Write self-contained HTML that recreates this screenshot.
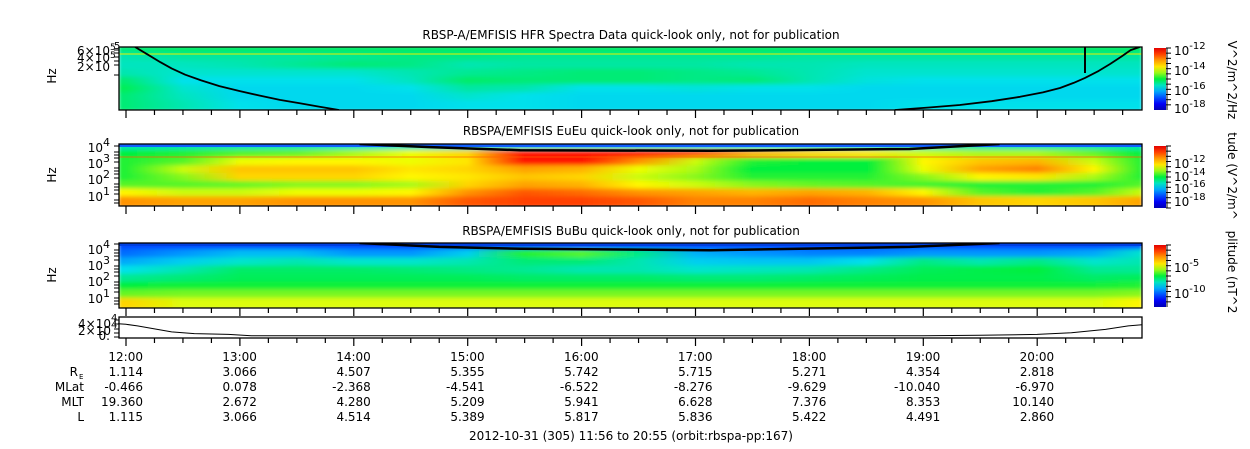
<!DOCTYPE html>
<html><head><meta charset="utf-8">
<style>
html,body{margin:0;padding:0;background:#fff;}
svg{display:block;font-family:"DejaVu Sans","Liberation Sans",sans-serif;}
</style></head>
<body>
<svg id="fig" width="1250" height="449" viewBox="0 0 1250 449" xmlns="http://www.w3.org/2000/svg">
<defs id="defs"></defs>
<g id="root"></g>
</svg>
<script>
// ---- data ----
var timeStops = [12,12.5,13,13.5,14,14.5,15,15.5,16,16.5,17,17.5,18,18.5,19,19.5,20,20.5,21];
var hfrRows = [
 [.46,.47,.47,.47,.47,.47,.47,.47,.47,.47,.47,.47,.47,.47,.47,.47,.47,.47,.47],
 [.42,.43,.43,.43,.44,.45,.45,.44,.44,.44,.44,.44,.43,.43,.43,.43,.43,.43,.43],
 [.41,.41,.42,.44,.46,.45,.42,.43,.43,.43,.43,.42,.42,.41,.41,.41,.41,.41,.41],
 [.42,.40,.40,.40,.40,.42,.44,.45,.46,.46,.45,.44,.42,.40,.40,.40,.40,.40,.40],
 [.46,.38,.38,.38,.38,.41,.47,.46,.46,.46,.45,.46,.42,.39,.38,.38,.38,.38,.38],
 [.48,.40,.37,.37,.37,.38,.43,.42,.38,.38,.39,.38,.38,.37,.37,.37,.37,.37,.37],
 [.46,.41,.37,.37,.37,.37,.40,.38,.37,.37,.37,.37,.37,.37,.37,.37,.37,.37,.37],
 [.46,.42,.38,.37,.37,.37,.38,.38,.37,.37,.37,.37,.37,.37,.38,.38,.38,.38,.38]
];
var euRows = [
 [.42,.42,.42,.42,.41,.40,.40,.40,.40,.40,.40,.40,.40,.40,.41,.42,.42,.42,.42],
 [.50,.52,.55,.56,.60,.64,.70,.90,.90,.88,.84,.74,.70,.68,.62,.60,.60,.56,.50],
 [.52,.55,.64,.66,.66,.64,.68,.90,.90,.78,.62,.52,.50,.50,.66,.72,.74,.62,.52],
 [.52,.62,.72,.72,.72,.68,.70,.76,.74,.64,.60,.50,.50,.50,.64,.76,.80,.66,.52],
 [.52,.58,.70,.70,.70,.66,.68,.72,.70,.62,.58,.52,.52,.52,.58,.66,.68,.60,.52],
 [.55,.55,.56,.58,.58,.60,.70,.76,.74,.66,.62,.58,.56,.55,.54,.52,.52,.52,.55],
 [.66,.62,.62,.64,.64,.66,.78,.84,.82,.78,.76,.74,.76,.74,.66,.55,.52,.55,.62],
 [.78,.76,.76,.78,.78,.78,.84,.86,.86,.84,.80,.80,.82,.80,.78,.72,.70,.72,.76]
];
var buRows = [
 [.22,.22,.22,.22,.22,.22,.22,.22,.22,.22,.22,.22,.22,.22,.22,.22,.22,.22,.24],
 [.26,.30,.34,.34,.30,.30,.36,.52,.55,.45,.33,.30,.28,.28,.30,.30,.30,.32,.40],
 [.32,.36,.40,.42,.40,.40,.42,.46,.46,.42,.36,.35,.35,.38,.45,.42,.45,.40,.42],
 [.38,.42,.47,.47,.47,.46,.45,.44,.42,.42,.40,.41,.42,.45,.48,.49,.50,.44,.44],
 [.44,.46,.48,.48,.48,.48,.48,.47,.47,.47,.46,.46,.47,.48,.49,.49,.49,.47,.48],
 [.50,.51,.51,.51,.51,.51,.51,.51,.51,.51,.51,.51,.51,.51,.51,.51,.51,.51,.52],
 [.56,.57,.57,.57,.57,.57,.57,.57,.57,.57,.57,.57,.57,.57,.57,.57,.57,.57,.58],
 [.70,.63,.63,.63,.63,.63,.63,.63,.63,.63,.63,.63,.63,.63,.63,.63,.63,.63,.66]
];
var hfrLineT1 = [12.08,12.2,12.3,12.4,12.52,12.66,12.82,13.0,13.17,13.35,13.52,13.7,13.87];
var hfrLineF1 = [0,0.13,0.24,0.34,0.44,0.53,0.62,0.70,0.77,0.84,0.89,0.95,1.0];
var hfrLineT2 = [18.75,19.05,19.32,19.6,19.85,20.05,20.2,20.32,20.42,20.54,20.64,20.74,20.82,20.9];
var hfrLineF2 = [1.0,0.96,0.92,0.86,0.79,0.72,0.65,0.57,0.49,0.38,0.27,0.15,0.05,0];
var euLineT = [14.05,14.67,15.46,17.13,18.88,19.67];
var euLineF = [0,0.05,0.10,0.11,0.08,0];
var buLineT = [14.05,14.75,15.46,17.13,18.88,19.67];
var buLineF = [0,0.06,0.09,0.11,0.06,0];
var distT = [11.93,12.0,12.1,12.25,12.4,12.6,12.9,13.1,14,19,19.5,20,20.3,20.6,20.8,20.92];
var distV = [3.1,3.0,2.6,1.9,1.2,0.8,0.6,0.3,0.3,0.3,0.4,0.6,1.0,1.8,2.6,2.9];
var hourLabels = ["12:00","13:00","14:00","15:00","16:00","17:00","18:00","19:00","20:00"];
var reVals = ["1.114","3.066","4.507","5.355","5.742","5.715","5.271","4.354","2.818"];
var mlatVals = ["-0.466","0.078","-2.368","-4.541","-6.522","-8.276","-9.629","-10.040","-6.970"];
var mltVals = ["19.360","2.672","4.280","5.209","5.941","6.628","7.376","8.353","10.140"];
var lVals = ["1.115","3.066","4.514","5.389","5.817","5.836","5.422","4.491","2.860"];

// ---- helpers ----
var NS="http://www.w3.org/2000/svg";
var root=document.getElementById('root'), defs=document.getElementById('defs');
var X0=119, X1=1142;
function xT(t){return 126+(t-12)*113.9;}
function cl(v){return Math.max(0,Math.min(1,v));}
var cmap=[[0,0,0,140],[0.15,0,0,255],[0.3,0,150,255],[0.38,0,225,235],[0.5,0,240,60],[0.65,255,255,0],[0.8,255,130,0],[0.92,255,0,0],[1,180,0,0]];
function jet(v){v=cl(v);for(var i=1;i<cmap.length;i++){if(v<=cmap[i][0]){var a=cmap[i-1],b=cmap[i],f=(v-a[0])/(b[0]-a[0]);
 return 'rgb('+Math.round(a[1]+(b[1]-a[1])*f)+','+Math.round(a[2]+(b[2]-a[2])*f)+','+Math.round(a[3]+(b[3]-a[3])*f)+')';}}return 'rgb(180,0,0)';}
function mk(tag,attrs,parent){var e=document.createElementNS(NS,tag);for(var k in attrs)e.setAttribute(k,attrs[k]);(parent||root).appendChild(e);return e;}
function txt(s,x,y,anchor,size,parent){var e=mk('text',{x:x,y:y,'text-anchor':anchor||'start','font-size':size||12,fill:'#000'},parent);e.textContent=s;return e;}

var f=mk('filter',{id:'vblur',x:'0',y:'-0.2',width:'1',height:'1.4'},defs);
mk('feGaussianBlur',{stdDeviation:'1.5 2.2'},f);

function spectro(id,rows,top,bot){
 var cp=mk('clipPath',{id:'clip-'+id},defs);
 mk('rect',{x:X0,y:top,width:X1-X0,height:bot-top},cp);
 var g=mk('g',{'clip-path':'url(#clip-'+id+')'});
 
 
 var inner=mk('g',{filter:'url(#vblur)'},g);
 var h=(bot-top)/rows.length;
 rows.forEach(function(row,ri){
  var gr=mk('linearGradient',{id:'g-'+id+'-'+ri,gradientUnits:'userSpaceOnUse',x1:X0,x2:X1,y1:0,y2:0},defs);
  row.forEach(function(v,i){
   var off=cl((xT(timeStops[i])-X0)/(X1-X0));
   mk('stop',{offset:off,'stop-color':jet(v)},gr);
  });
  var r=mk('rect',{x:X0,y:top+ri*h-2,width:X1-X0,height:h+4,fill:'url(#g-'+id+'-'+ri+')'},inner);
  
  
 });
 return g;
}
function curve(g,ts,fs,top,bot,name,w){
 var d=ts.map(function(t,i){return (i?'L':'M')+xT(t).toFixed(1)+','+(top+fs[i]*(bot-top)).toFixed(1);}).join(' ');
 var p=mk('path',{d:d,fill:'none',stroke:'#000','stroke-width':w||2,'stroke-linejoin':'round'},g);
 
 
}
function frame(top,bot,name){
 var r=mk('rect',{x:X0,y:top,width:X1-X0,height:bot-top,fill:'none',stroke:'#000','stroke-width':1.3});
 
 
 for(var m=-1;m<=36;m++){var t=12+m*0.25;var x=xT(t);if(x<X0||x>X1)continue;
  var major=(m%4===0);
  mk('line',{x1:x,x2:x,y1:bot,y2:bot+(major?8:5),stroke:'#000','stroke-width':1.2});
 }
}
function cbar(id,top,bot,labels){
 var gr=mk('linearGradient',{id:'cb-'+id,x1:0,x2:0,y1:1,y2:0},defs);
 for(var i=0;i<=10;i++){mk('stop',{offset:i/10,'stop-color':jet(0.05+i*0.09)},gr);}
 var r=mk('rect',{x:1154,y:top,width:12,height:bot-top,fill:'url(#cb-'+id+')'});
 
 
 mk('line',{x1:1167,x2:1167,y1:top,y2:bot,stroke:'#000','stroke-width':1});
 for(var y=top;y<=bot;y+=(bot-top)/12){mk('line',{x1:1166,x2:1171,y1:y,y2:y,stroke:'#000','stroke-width':1});}
 labels.forEach(function(l){
  var t=mk('text',{x:1174,y:l[1]+5,'font-size':12,fill:'#000'});t.textContent='10';
  var s=mk('tspan',{dy:-6,'font-size':10},t);s.textContent=l[0];
 });
}
function ylabelPow(x,y,exp){
 var t=mk('text',{x:x,y:y+5,'text-anchor':'end','font-size':12,fill:'#000'});t.textContent='10';
 var s=mk('tspan',{dy:-6,'font-size':11},t);s.textContent=exp;
 t.setAttribute('transform','translate(12,0)');
}
function vtext(s,x,y,name){var t=mk('text',{x:0,y:0,'text-anchor':'middle','font-size':12,fill:'#000',transform:'translate('+x+','+y+') rotate(90)'});t.textContent=s;
 
 return t;}
function htz(y,name){var t=mk('text',{x:0,y:0,'text-anchor':'middle','font-size':12,fill:'#000',transform:'translate(56,'+y+') rotate(-90)'});t.textContent='Hz';
 
 }

// ---- Panel 1: HFR ----
var t1=txt('RBSP-A/EMFISIS  HFR Spectra Data quick-look only, not for publication',631,39,'middle',12);


var g1=spectro('hfr',hfrRows,47,110);
mk('line',{x1:X0,x2:X1,y1:54,y2:54,stroke:'#e8f000','stroke-width':1},g1);
curve(g1,hfrLineT1,hfrLineF1,47,110,'hfr-plasma-line-left',1.8);
curve(g1,hfrLineT2,hfrLineF2,47,110,'hfr-plasma-line-right',1.8);
mk('line',{x1:1085,x2:1085,y1:47,y2:73,stroke:'#000','stroke-width':2},g1);
frame(47,110,'hfr');
htz(76,'hfr-y-axis-title');
txt('5',114,49,'start',10);
txt('6×10',110,55,'end',12);txt('4×10',110,62,'end',12);txt('2×10',110,71,'end',12);
txt('5',110,50,'start',9);txt('5',110,58,'start',9);
[50,53,57,61,65,75].forEach(function(y){mk('line',{x1:114,x2:119,y1:y,y2:y,stroke:'#000','stroke-width':1});});
cbar('hfr',48,110,[['-12',50],['-14',70],['-16',90],['-18',108]]);
vtext('V^2/m^2/Hz',1228,80,'hfr-colorbar-title');

// ---- Panel 2: EuEu ----
var t2=txt('RBSPA/EMFISIS  EuEu quick-look only, not for publication',631,135,'middle',12);


var g2=spectro('eueu',euRows,144,206);
mk('rect',{x:X0,y:144,width:X1-X0,height:3,fill:'#1060ff'},g2);
mk('line',{x1:X0,x2:X1,y1:157,y2:157,stroke:'#ff6000','stroke-width':1,opacity:0.7},g2);
curve(g2,euLineT,euLineF,144,206,'eueu-cyclotron-line',2.5);
frame(144,206,'eueu');
htz(175,'eueu-y-axis-title');
ylabelPow(98,147,'4');ylabelPow(98,163,'3');ylabelPow(98,179,'2');ylabelPow(98,196,'1');
[146,152,155,158,162,168,171,174,178,184,187,190,194,200,203].forEach(function(y){mk('line',{x1:114,x2:119,y1:y,y2:y,stroke:'#000','stroke-width':1});});
cbar('eueu',146,208,[['-12',163],['-14',176],['-16',188],['-18',201]]);
vtext('tude (V^2/m^',1228,176,'eueu-colorbar-title');

// ---- Panel 3: BuBu ----
var t3=txt('RBSPA/EMFISIS  BuBu quick-look only, not for publication',631,235,'middle',12);


var g3=spectro('bubu',buRows,243,308);
mk('rect',{x:X0,y:243,width:X1-X0,height:3,fill:'#0040e0'},g3);
curve(g3,buLineT,buLineF,243,308,'bubu-cyclotron-line',2.5);
frame(243,308,'bubu');
htz(275,'bubu-y-axis-title');
ylabelPow(98,249,'4');ylabelPow(98,265,'3');ylabelPow(98,281,'2');ylabelPow(98,298,'1');
[244,250,253,256,260,266,269,272,276,282,285,288,292,298,301,304].forEach(function(y){mk('line',{x1:114,x2:119,y1:y,y2:y,stroke:'#000','stroke-width':1});});
cbar('bubu',245,307,[['-5',267],['-10',293]]);
vtext('plitude (nT^2',1228,272,'bubu-colorbar-title');

// ---- Panel 4: distance line ----
function yD(v){return 337-v*4.25;}
var dd=distT.map(function(t,i){return (i?'L':'M')+xT(t).toFixed(1)+','+yD(distV[i]).toFixed(1);}).join(' ');
var p4=mk('path',{d:dd,fill:'none',stroke:'#000','stroke-width':1});


frame(317,338,'distance');
txt('4',111,321,'start',10);
txt('4×10',111,328,'end',12);txt('4',111,328,'start',10);
txt('2×10',111,335,'end',12);txt('0.',110,340,'end',12);
[320,324,329,333,337].forEach(function(y){mk('line',{x1:114,x2:119,y1:y,y2:y,stroke:'#000','stroke-width':1});});

// ---- ephemeris table ----
var rowY=[361,376,391,406,421];
var lab=[['R',rowY[1]],['MLat',rowY[2]],['MLT',rowY[3]],['L',rowY[4]]];
lab.forEach(function(l){var t=txt(l[0],l[0]==='R'?78:84,l[1],'end',12);
 
 });
txt('E',79,379,'start',7);
[hourLabels,reVals,mlatVals,mltVals,lVals].forEach(function(arr,ri){
 arr.forEach(function(s,i){var x=xT(12+i)+17;var t=txt(s,x,rowY[ri],'end',12);
  
  });
});
var ft=txt('2012-10-31 (305) 11:56 to 20:55 (orbit:rbspa-pp:167)',631,440,'middle',12);


</script>
</body></html>
